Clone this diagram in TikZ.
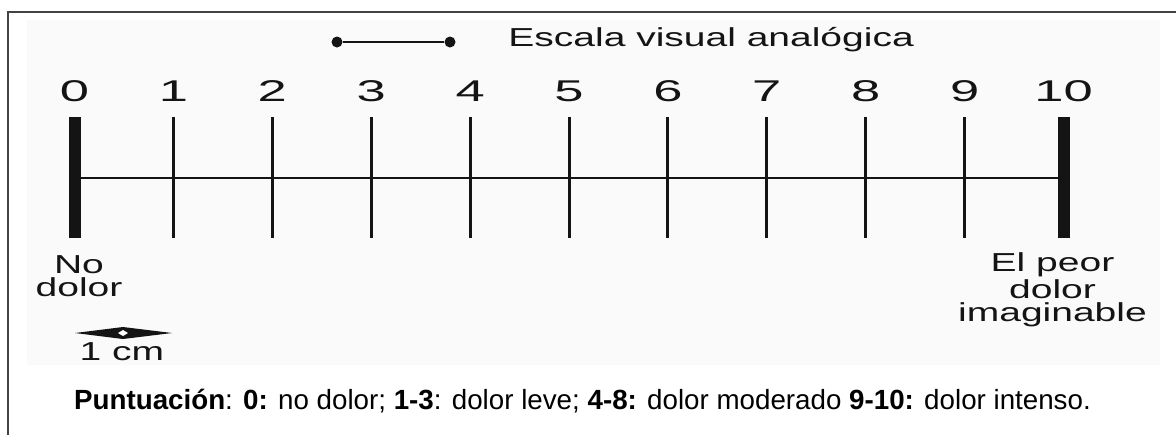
\documentclass[tikz,border=0pt]{standalone}
\usepackage{fontspec}
\setmainfont{Liberation Sans}
\newfontfamily\widefont[FakeStretch=1.5]{Liberation Sans}
\newfontfamily\digitfont[FakeStretch=1.75]{Liberation Sans}
\usetikzlibrary{positioning}
\definecolor{ink}{RGB}{20,20,20}
\definecolor{paper}{RGB}{250,250,250}
\tikzset{
  numlbl/.style={font=\digitfont\fontsize{15}{15}\selectfont, text=ink, inner sep=0pt, anchor=base},
  endlbl/.style={font=\widefont\fontsize{13}{11.8}\selectfont, text=ink, align=center, inner sep=0pt},
  tick/.style={draw=ink, line width=1.5pt},
  endtick/.style={draw=ink, line width=6pt},
  dot/.style={circle, fill=ink, inner sep=0pt, minimum size=5.5pt}
}

\begin{document}
\begin{tikzpicture}[x=0.5pt, y=-0.5pt]
  \useasboundingbox (0,0) rectangle (1176,435);
  \fill[white] (0,0) rectangle (1176,435);
  \fill[paper] (27,20) rectangle (1160,365);
  \draw[ink!80, line width=0.8pt] (8,435) -- (8,12) -- (1176,12);
  % legend of the scale
  \node[dot] (la) at (337,42) {};
  \node[dot] (lb) at (450,42) {};
  \draw[ink, line width=0.8pt] (la) -- (lb);
  \node[endlbl, anchor=base west] (title) at (508,46) {Escala visual analógica};
  % ticks and numbers
  \draw[ink, line width=1pt] (74.5,178) -- (1063.5,178);
  \foreach \i in {1,...,9}
    \draw[tick] ({74.5+98.9*\i},117) -- ({74.5+98.9*\i},238);
  \draw[endtick] (74.5,117) -- (74.5,238);
  \draw[endtick] (1063.5,117) -- (1063.5,238);
  \foreach \i in {0,...,10}
    \node[numlbl] (n\i) at ({74.5+98.9*\i},101) {\i};
  % end labels
  \node[endlbl] (nodolor) at (79,276) {No\\dolor};
  \node[endlbl] (peor) at (1052.5,290) {El peor\\dolor\\imaginable};
  % 1 cm mark
  \coordinate (cm) at (123,333);
  \fill[ink] (75,333) -- (123,327) -- (172,333) -- (123,339) -- cycle;
  \fill[white] (118,333) -- (123,330) -- (128,333) -- (123,336) -- cycle;
  \node[endlbl, anchor=base] (cmlbl) at (122,360) {1 cm};
  % score key
  \node[font=\fontsize{13.87}{15}\selectfont, text=black, inner sep=0pt] (key) at (582.5,401)
    {\textbf{Puntuación}: \textbf{0:} no dolor; \textbf{1-3}: dolor leve; \textbf{4-8:} dolor moderado \textbf{9-10:} dolor intenso.};
\end{tikzpicture}
\end{document}
